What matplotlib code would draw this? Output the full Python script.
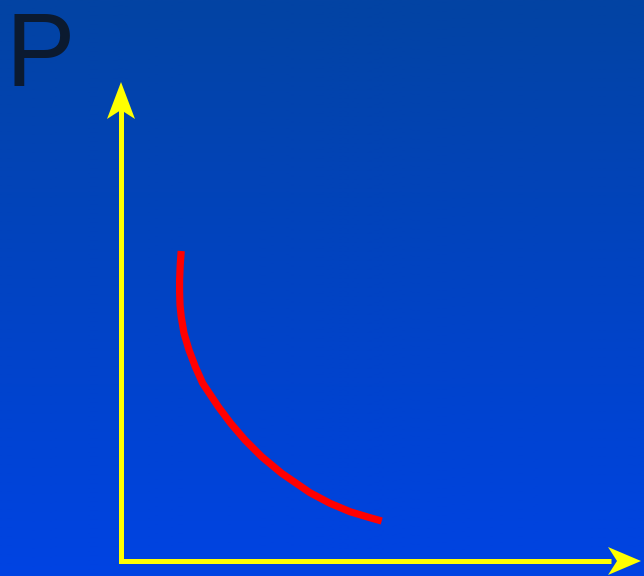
import numpy as np
import matplotlib
matplotlib.use("Agg")
import matplotlib.pyplot as plt
from matplotlib.patches import Polygon
from matplotlib.colors import LinearSegmentedColormap

# Curve data (x = quantity, y = price) in chart units
curve_x = [60.2, 59.2, 58.6, 58.6, 59.0, 60.2, 63.0, 68.0, 74.3, 81.7, 97.3,
           109.7, 124.0, 140.7, 160.7, 189.0, 209.0, 229.0, 249.0, 260.7]
curve_y = [309.0, 295.0, 280.0, 268.0, 255.0, 243.3, 226.7, 210.0, 193.3, 176.7,
           153.3, 136.7, 120.0, 103.3, 86.7, 67.3, 56.7, 48.3, 42.3, 39.0]

axis_label = "P"

W, H, DPI = 644, 576, 100
fig = plt.figure(figsize=(W / DPI, H / DPI), dpi=DPI)
ax = fig.add_axes([0, 0, 1, 1])
x0, x1 = -121, 523
y0, y1 = -16, 560
ax.set_xlim(x0, x1)
ax.set_ylim(y0, y1)
ax.axis("off")

# Background gradient
cmap = LinearSegmentedColormap.from_list("bg", ["#0043e3", "#0343a3"])
grad = np.linspace(0, 1, 256).reshape(-1, 1)
ax.imshow(grad, cmap=cmap, aspect="auto", extent=[x0, x1, y0, y1],
          origin="lower", zorder=0)

yellow = "#ffff00"
lw_axis = 3.6

# Arrowhead helper (stealth style)
def arrowhead(tip, direction, length=37, width=28, notch=9):
    tx, ty = tip
    dx, dy = direction
    px, py = -dy, dx
    bx, by = tx - dx * length, ty - dy * length
    nx, ny = tx - dx * (length - notch), ty - dy * (length - notch)
    pts = [(tx, ty),
           (bx + px * width / 2, by + py * width / 2),
           (nx, ny),
           (bx - px * width / 2, by - py * width / 2)]
    return Polygon(pts, closed=True, facecolor=yellow, edgecolor="none", zorder=3)

v_tip = (0, 478)
h_tip = (520, -1)
ax.plot([0, 0], [-1, v_tip[1] - 30], color=yellow, lw=lw_axis,
        solid_capstyle="projecting", zorder=2)
ax.plot([0, h_tip[0] - 30], [-1, -1], color=yellow, lw=lw_axis,
        solid_capstyle="butt", zorder=2)
ax.add_patch(arrowhead(v_tip, (0, 1)))
ax.add_patch(arrowhead(h_tip, (1, 0), length=33))

# Demand curve
ax.plot(curve_x, curve_y, color="#ff0000", lw=5.2, solid_capstyle="butt",
        solid_joinstyle="round", zorder=4)

# Axis label
fig.text(5 / W, 1 - 86 / H, axis_label, fontsize=75, color="#0b1a30",
         family=["Liberation Sans", "DejaVu Sans"], ha="left", va="baseline")

fig.savefig("out.png", dpi=DPI)
